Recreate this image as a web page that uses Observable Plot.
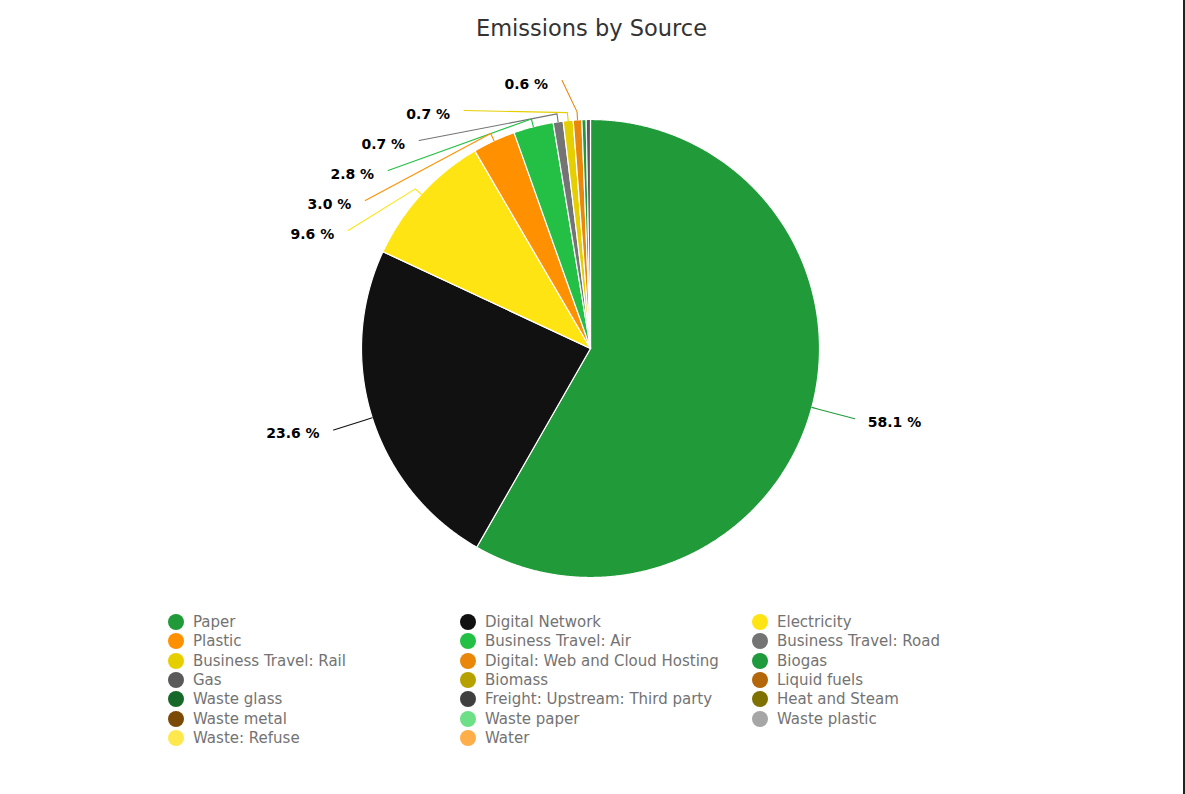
<!DOCTYPE html>
<html><head><meta charset="utf-8">
<script src="https://cdn.jsdelivr.net/npm/d3@7"></script>
<script src="https://cdn.jsdelivr.net/npm/@observablehq/plot@0.6"></script>
<style>
html,body{margin:0;padding:0;background:#fff;}
#wrap{position:relative;width:1183px;height:794px;border-right:2px solid #222;font-family:"DejaVu Sans",sans-serif;overflow:hidden;}
#title{height:56px;line-height:56px;text-align:center;font-size:22.5px;color:#333;}
#chart svg{display:block;}
#legend{display:grid;grid-template-columns:292px 292px 292px;grid-auto-rows:19.3px;padding-left:168px;margin-top:11.5px;}
.item{display:flex;align-items:center;font-size:15px;color:#737373;white-space:nowrap;}
.dot{width:16px;height:16px;border-radius:50%;margin-right:9px;flex:none;}
</style></head>
<body>
<div id="wrap">
  <div id="title">Emissions by Source</div>
  <div id="chart"></div>
  <div id="legend"></div>
</div>
<script>
const names = ["Paper","Digital Network","Electricity","Plastic","Business Travel: Air","Business Travel: Road","Business Travel: Rail","Digital: Web and Cloud Hosting","Biogas","Gas","Biomass","Liquid fuels","Waste glass","Freight: Upstream: Third party","Heat and Steam","Waste metal","Waste paper","Waste plastic","Waste: Refuse","Water"];
const values = [58.1, 23.6, 9.6, 3.0, 2.8, 0.7, 0.7, 0.6, 0.3, 0.3, 0, 0, 0, 0, 0, 0, 0, 0, 0, 0];
const colors = ["#219b39","#111111","#ffe414","#ff9100","#24c046","#747474","#e6cf00","#e8870a","#1f9a3d","#5a5a5a","#b5a200","#b3660a","#17692a","#3f3f3f","#7f7100","#7b4a06","#6ddf87","#a6a6a6","#ffe84d","#ffae4a"];

// layout (pixels)
const W = 1183, H = 545, CX = 590, CY = 292, R = 229;
const LABEL_R_LEFT = 269.5 / R, LABEL_R_RIGHT = 273.5 / R, BEND = 1 + 8 / R, GAP = 30 / R, TOP = 268 / R;

const rows = names.map((n, i) => ({name: n, value: values[i]}));
const arcs = d3.pie().sort(null).value(d => d.value)(rows);

const slicePts = [];
for (const a of arcs) {
  const span = a.endAngle - a.startAngle;
  if (span <= 0) continue;
  slicePts.push({name: a.data.name, x: 0, y: 0});
  const n = Math.max(2, Math.ceil(span / 0.004));
  for (let k = 0; k <= n; k++) {
    const t = a.startAngle + span * k / n;
    slicePts.push({name: a.data.name, x: Math.sin(t), y: Math.cos(t)});
  }
}

// labels
const labeled = arcs.filter(a => a.data.value >= 0.5).map(a => {
  const mid = (a.startAngle + a.endAngle) / 2;
  const side = Math.sin(mid) >= 0 ? 1 : -1;
  const LR = side > 0 ? LABEL_R_RIGHT : LABEL_R_LEFT;
  return {name: a.data.name, value: a.data.value, mid, side, LR, ny: Math.cos(mid) * LR};
});
const labels = [];
for (const side of [1, -1]) {
  const grp = labeled.filter(d => d.side === side).sort((a, b) => b.ny - a.ny);
  let prev = null;
  for (const d of grp) {
    let Y = Math.min(d.ny, TOP);
    if (prev !== null) Y = Math.min(Y, prev - GAP);
    prev = Y;
    const X = side * Math.sqrt(Math.max(0, d.LR * d.LR - Y * Y));
    labels.push({...d, X, Y, text: d.value.toFixed(1) + " %"});
  }
}
const connPts = [];
for (const d of labels) {
  connPts.push({name: d.name, x: d.X, y: d.Y});
  connPts.push({name: d.name, x: Math.sin(d.mid) * BEND, y: Math.cos(d.mid) * BEND});
  connPts.push({name: d.name, x: Math.sin(d.mid), y: Math.cos(d.mid)});
}

const chart = Plot.plot({
  width: W, height: H, margin: 0,
  x: {domain: [-CX / R, (W - CX) / R], range: [0, W], axis: null},
  y: {domain: [-(H - CY) / R, CY / R], range: [H, 0], axis: null},
  color: {domain: names, range: colors},
  style: {fontFamily: "DejaVu Sans, sans-serif", background: "white"},
  marks: [
    Plot.line(slicePts, {x: "x", y: "y", z: "name", fill: "name", stroke: "white", strokeWidth: 1.2, curve: "linear-closed"}),
    Plot.line(connPts, {x: "x", y: "y", z: "name", stroke: "name", strokeWidth: 1.1, fill: "none"}),
    Plot.text(labels.filter(d => d.side > 0), {x: "X", y: "Y", text: "text", textAnchor: "start", dx: 13, dy: 4, fontSize: 14, fontWeight: "bold", fill: "#000"}),
    Plot.text(labels.filter(d => d.side < 0), {x: "X", y: "Y", text: "text", textAnchor: "end", dx: -14, dy: 4, fontSize: 14, fontWeight: "bold", fill: "#000"})
  ]
});
document.getElementById("chart").appendChild(chart);

const legend = document.getElementById("legend");
names.forEach((n, i) => {
  const it = document.createElement("div");
  it.className = "item";
  const dot = document.createElement("span");
  dot.className = "dot";
  dot.style.background = colors[i];
  it.appendChild(dot);
  it.appendChild(document.createTextNode(n));
  legend.appendChild(it);
});
</script>
</body></html>
